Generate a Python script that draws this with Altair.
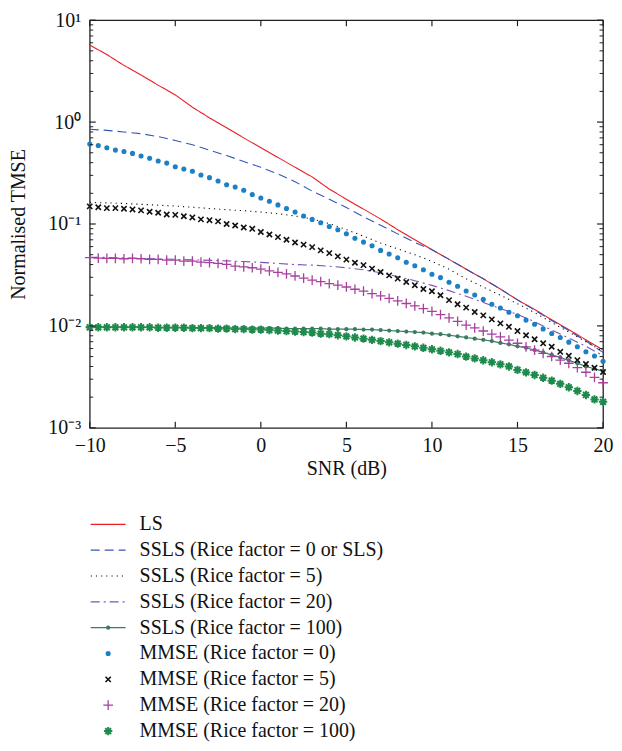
import altair as alt
import pandas as pd

# ---------------- data ----------------
SNR_COARSE = list(range(-10, 21))                 # 1 dB grid for plain lines
SNR_FINE = [-10 + 0.5 * i for i in range(61)]      # 0.5 dB grid for marker series

LS = [5.7, 4.6, 3.6, 2.9, 2.3, 1.85, 1.4, 1.1, 0.88, 0.70, 0.56, 0.45, 0.36, 0.29,
      0.22, 0.175, 0.14, 0.112, 0.088, 0.070, 0.056, 0.045, 0.036, 0.029, 0.023,
      0.018, 0.0145, 0.0115, 0.0092, 0.0073, 0.0058]
SSLS_K0 = [0.85, 0.83, 0.80, 0.77, 0.72, 0.66, 0.60, 0.53, 0.47, 0.41, 0.36, 0.31,
           0.26, 0.21, 0.175, 0.145, 0.118, 0.097, 0.080, 0.066, 0.056, 0.045,
           0.036, 0.029, 0.023, 0.018, 0.0143, 0.0113, 0.0090, 0.0071, 0.0055]
SSLS_K5 = [0.163, 0.161, 0.159, 0.156, 0.153, 0.150, 0.146, 0.142, 0.138, 0.135,
           0.131, 0.126, 0.120, 0.112, 0.101, 0.088, 0.076, 0.065, 0.057, 0.050,
           0.043, 0.036, 0.029, 0.024, 0.020, 0.0165, 0.0135, 0.0108, 0.0087,
           0.0070, 0.0056]
SSLS_K20 = [0.047, 0.047, 0.0465, 0.046, 0.0455, 0.045, 0.0445, 0.044, 0.0435,
            0.0428, 0.042, 0.041, 0.040, 0.0395, 0.0385, 0.0372, 0.0355, 0.0332,
            0.0305, 0.0278, 0.0250, 0.0222, 0.0195, 0.0170, 0.0148, 0.0130,
            0.0110, 0.0091, 0.0076, 0.0063, 0.0051]
SSLS_K100 = [0.0098, 0.0098, 0.0098, 0.0098, 0.0098, 0.0098, 0.0098, 0.0097, 0.0097,
             0.0097, 0.0097, 0.0097, 0.0097, 0.0096, 0.0096, 0.0096, 0.0096, 0.0095,
             0.0095, 0.0095, 0.0095, 0.0095, 0.0095, 0.0094, 0.0094, 0.0094, 0.0094,
             0.0094, 0.0093, 0.0093, 0.0093, 0.0093, 0.0092, 0.0092, 0.0091, 0.0090,
             0.0089, 0.0088, 0.0087, 0.0086, 0.0084, 0.0083, 0.0081, 0.0079, 0.0077,
             0.0075, 0.0073, 0.0071, 0.0068, 0.0066, 0.0063, 0.0061, 0.0058, 0.0055,
             0.0052, 0.0049, 0.0046, 0.0043, 0.0040, 0.0038, 0.0036]
MMSE_K0 = [0.608, 0.590, 0.560, 0.531, 0.515, 0.493, 0.465, 0.441, 0.415, 0.396,
           0.365, 0.347, 0.329, 0.303, 0.285, 0.264, 0.243, 0.231, 0.214, 0.195,
           0.180, 0.167, 0.154, 0.142, 0.131, 0.120, 0.111, 0.103, 0.0946, 0.0877,
           0.0802, 0.0726, 0.0664, 0.0612, 0.0551, 0.0507, 0.0467, 0.0421, 0.0390,
           0.0356, 0.0321, 0.0298, 0.0268, 0.0245, 0.0220, 0.0201, 0.0182, 0.0163,
           0.0150, 0.0136, 0.0126, 0.0114, 0.0104, 0.00935, 0.00843, 0.00771,
           0.00693, 0.00624, 0.00557, 0.00506, 0.00449]
MMSE_K5 = [0.149, 0.146, 0.143, 0.143, 0.141, 0.139, 0.136, 0.132, 0.129, 0.124,
           0.123, 0.119, 0.116, 0.111, 0.109, 0.106, 0.100, 0.0966, 0.0925, 0.0897,
           0.0835, 0.0789, 0.0743, 0.0700, 0.0659, 0.0627, 0.0593, 0.0551, 0.0518,
           0.0481, 0.0447, 0.0417, 0.0395, 0.0365, 0.0338, 0.0313, 0.0291, 0.0270,
           0.0251, 0.0230, 0.0219, 0.0200, 0.0179, 0.0163, 0.0151, 0.0137, 0.0127,
           0.0116, 0.0106, 0.0098, 0.0089, 0.0081, 0.0074, 0.00675, 0.00624,
           0.00557, 0.00509, 0.00462, 0.00423, 0.00389, 0.00353]
MMSE_K20 = [0.0467, 0.0462, 0.0459, 0.0459, 0.0456, 0.0459, 0.0456, 0.0449, 0.0449,
            0.0443, 0.0443, 0.0433, 0.0433, 0.0423, 0.0417, 0.0410, 0.0401, 0.0386,
            0.0380, 0.0372, 0.0361, 0.0347, 0.0335, 0.0324, 0.0309, 0.0295, 0.0282,
            0.0272, 0.0260, 0.0251, 0.0241, 0.0229, 0.0219, 0.0207, 0.0197, 0.0186,
            0.0176, 0.0166, 0.0157, 0.0148, 0.0139, 0.0129, 0.0120, 0.0111, 0.0102,
            0.00955, 0.00891, 0.00832, 0.00782, 0.00724, 0.00676, 0.00624, 0.00579,
            0.00537, 0.00501, 0.00462, 0.00430, 0.00389, 0.00351, 0.00313, 0.00277]
MMSE_K100 = [0.0097, 0.0097, 0.0097, 0.0097, 0.0097, 0.0097, 0.0097, 0.0097, 0.0096,
             0.0096, 0.0096, 0.0096, 0.0095, 0.0095, 0.0095, 0.0094, 0.0094, 0.0093,
             0.0093, 0.0092, 0.0092, 0.0091, 0.0090, 0.0089, 0.0088, 0.0087, 0.0086,
             0.0084, 0.0083, 0.0081, 0.0079, 0.0077, 0.0075, 0.0073, 0.0071, 0.0069,
             0.0067, 0.0065, 0.0063, 0.0061, 0.0059, 0.0057, 0.0055, 0.0053, 0.0050,
             0.0048, 0.0046, 0.0044, 0.0042, 0.0040, 0.0037, 0.0035, 0.0033, 0.0031,
             0.0029, 0.0027, 0.0025, 0.0023, 0.0021, 0.0019, 0.0018]

LABELS = ["LS",
          "SSLS (Rice factor = 0 or SLS)",
          "SSLS (Rice factor = 5)",
          "SSLS (Rice factor = 20)",
          "SSLS (Rice factor = 100)",
          "MMSE (Rice factor = 0)",
          "MMSE (Rice factor = 5)",
          "MMSE (Rice factor = 20)",
          "MMSE (Rice factor = 100)"]

X_TICKS = [-10, -5, 0, 5, 10, 15, 20]
Y_DECADES = [0.001, 0.01, 0.1, 1, 10]
Y_MINOR = [m * d for d in [0.001, 0.01, 0.1, 1] for m in range(2, 10)]

# ---------------- styling ----------------
FONT = "Liberation Serif, Times New Roman, serif"
W, H = 515, 409

STYLE = {
    LABELS[0]: dict(kind="line", color="#ec1c24", dash=[1, 0]),
    LABELS[1]: dict(kind="line", color="#3456b8", dash=[9, 5]),
    LABELS[2]: dict(kind="line", color="#111111", dash=[1.2, 4]),
    LABELS[3]: dict(kind="line", color="#7d55b4", dash=[9, 4, 2, 4]),
    LABELS[4]: dict(kind="linept", color="#3b7c5e", dash=[1, 0]),
    LABELS[5]: dict(kind="pt", color="#1b80c4", shape="circle", size=26, filled=True, sw=0),
    LABELS[6]: dict(kind="pt", color="#111111", shape="M-1,-1L1,1M-1,1L1,-1", size=28, filled=False, sw=1.6),
    LABELS[7]: dict(kind="pt", color="#a8409e", shape="M-1,0L1,0M0,-1L0,1", size=95, filled=False, sw=1.3),
    LABELS[8]: dict(kind="pt", color="#1e8a4c",
                    shape="M-1,0L1,0M0,-1L0,1M-0.7,-0.7L0.7,0.7M-0.7,0.7L0.7,-0.7",
                    size=70, filled=False, sw=2.0),
}

SERIES = {
    LABELS[0]: (SNR_COARSE, LS),
    LABELS[1]: (SNR_COARSE, SSLS_K0),
    LABELS[2]: (SNR_COARSE, SSLS_K5),
    LABELS[3]: (SNR_COARSE, SSLS_K20),
    LABELS[4]: (SNR_FINE, SSLS_K100),
    LABELS[5]: (SNR_FINE, MMSE_K0),
    LABELS[6]: (SNR_FINE, MMSE_K5),
    LABELS[7]: (SNR_FINE, MMSE_K20),
    LABELS[8]: (SNR_FINE, MMSE_K100),
}

x_label_expr = "datum.value < 0 ? '\u2212' + (-datum.value) : '' + datum.value"
y_label_expr = ("datum.value == 10 ? '10\u00b9' : datum.value == 1 ? '10\u2070' : "
                "datum.value == 0.1 ? '10\u207b\u00b9' : datum.value == 0.01 ? '10\u207b\u00b2' : "
                "datum.value == 0.001 ? '10\u207b\u00b3' : ''")

x_enc = alt.X("snr:Q",
              scale=alt.Scale(domain=[-10, 20], nice=False, zero=False),
              axis=alt.Axis(values=X_TICKS, title="SNR (dB)", ticks=False, tickSize=0,
                            domain=False, grid=False, labelPadding=8, titlePadding=3,
                            labelFlush=False, labelExpr=x_label_expr))
y_enc = alt.Y("v:Q",
              scale=alt.Scale(type="log", domain=[0.001, 10], nice=False),
              axis=alt.Axis(values=Y_DECADES, title="Normalised TMSE", ticks=False,
                            tickSize=0, domain=False, grid=False, labelPadding=9,
                            titlePadding=19, labelFlush=False, labelExpr=y_label_expr))

layers = []
for lab in LABELS:
    xs, vs = SERIES[lab]
    d = pd.DataFrame({"snr": xs, "v": vs})
    st = STYLE[lab]
    base = alt.Chart(d)
    if st["kind"] in ("line", "linept"):
        layers.append(base.mark_line(color=st["color"], strokeDash=st["dash"],
                                     strokeWidth=1.2 if st["kind"] == "linept" else 1.1,
                                     clip=True)
                      .encode(x=x_enc, y=y_enc))
    if st["kind"] == "linept":
        layers.append(base.mark_point(shape="circle", filled=True, size=18,
                                      color=st["color"], opacity=1)
                      .encode(x=x_enc, y=y_enc))
    if st["kind"] == "pt":
        layers.append(base.mark_point(shape=st["shape"], filled=st["filled"],
                                      size=st["size"], color=st["color"],
                                      strokeWidth=st["sw"], opacity=1)
                      .encode(x=x_enc, y=y_enc))

# inward frame ticks
ymaj = pd.DataFrame({"v": Y_DECADES})
ymin = pd.DataFrame({"v": Y_MINOR})
xmaj = pd.DataFrame({"snr": X_TICKS})
tick_color = "#222222"
layers += [
    alt.Chart(ymaj).mark_rule(color=tick_color, strokeWidth=1.2).encode(
        y=y_enc, x=alt.value(0), x2=alt.value(6)),
    alt.Chart(ymaj).mark_rule(color=tick_color, strokeWidth=1.2).encode(
        y=y_enc, x=alt.value(W), x2=alt.value(W - 6)),
    alt.Chart(ymin).mark_rule(color=tick_color, strokeWidth=1.0).encode(
        y=y_enc, x=alt.value(0), x2=alt.value(3.5)),
    alt.Chart(ymin).mark_rule(color=tick_color, strokeWidth=1.0).encode(
        y=y_enc, x=alt.value(W), x2=alt.value(W - 3.5)),
    alt.Chart(xmaj).mark_rule(color=tick_color, strokeWidth=1.2).encode(
        x=x_enc, y=alt.value(H), y2=alt.value(H - 6)),
    alt.Chart(xmaj).mark_rule(color=tick_color, strokeWidth=1.2).encode(
        x=x_enc, y=alt.value(0), y2=alt.value(6)),
]

main = alt.layer(*layers).properties(width=W, height=H)

# ---------------- legend panel ----------------
leg_y = alt.Y("label:N", sort=LABELS, scale=alt.Scale(type="point", padding=0.3),
              axis=None)
LEG_H = 223
leg_layers = []
for lab in LABELS:
    st = STYLE[lab]
    d = pd.DataFrame({"label": [lab]})
    base = alt.Chart(d)
    if st["kind"] in ("line", "linept"):
        leg_layers.append(base.mark_rule(color=st["color"], strokeDash=st["dash"],
                                         strokeWidth=1.2)
                          .encode(y=leg_y, x=alt.value(1), x2=alt.value(36)))
    if st["kind"] == "linept":
        leg_layers.append(base.mark_point(shape="circle", filled=True, size=18,
                                          color=st["color"], opacity=1)
                          .encode(y=leg_y, x=alt.value(18.5)))
    if st["kind"] == "pt":
        leg_layers.append(base.mark_point(shape=st["shape"], filled=st["filled"],
                                          size=st["size"], color=st["color"],
                                          strokeWidth=st["sw"], opacity=1)
                          .encode(y=leg_y, x=alt.value(18.5)))
txt = pd.DataFrame({"label": LABELS})
leg_layers.append(alt.Chart(txt).mark_text(align="left", baseline="middle", font=FONT,
                                           fontSize=20, color="#111111")
                  .encode(y=leg_y, text="label:N", x=alt.value(50)))
legend = alt.layer(*leg_layers).properties(
    width=W, height=LEG_H, view=alt.ViewBackground(stroke="transparent"))

chart = alt.vconcat(main, legend, spacing=89, bounds="flush").properties(
    padding={"left": 0, "top": 0, "right": 0, "bottom": 0}
).configure_view(stroke="#222222", strokeWidth=1.3).configure_axis(
    labelFont=FONT, labelFontSize=20, labelColor="#111111",
    titleFont=FONT, titleFontSize=20, titleFontWeight="normal", titleColor="#111111"
)

chart.save("out.html", embed_options={"renderer": "svg", "actions": False})
